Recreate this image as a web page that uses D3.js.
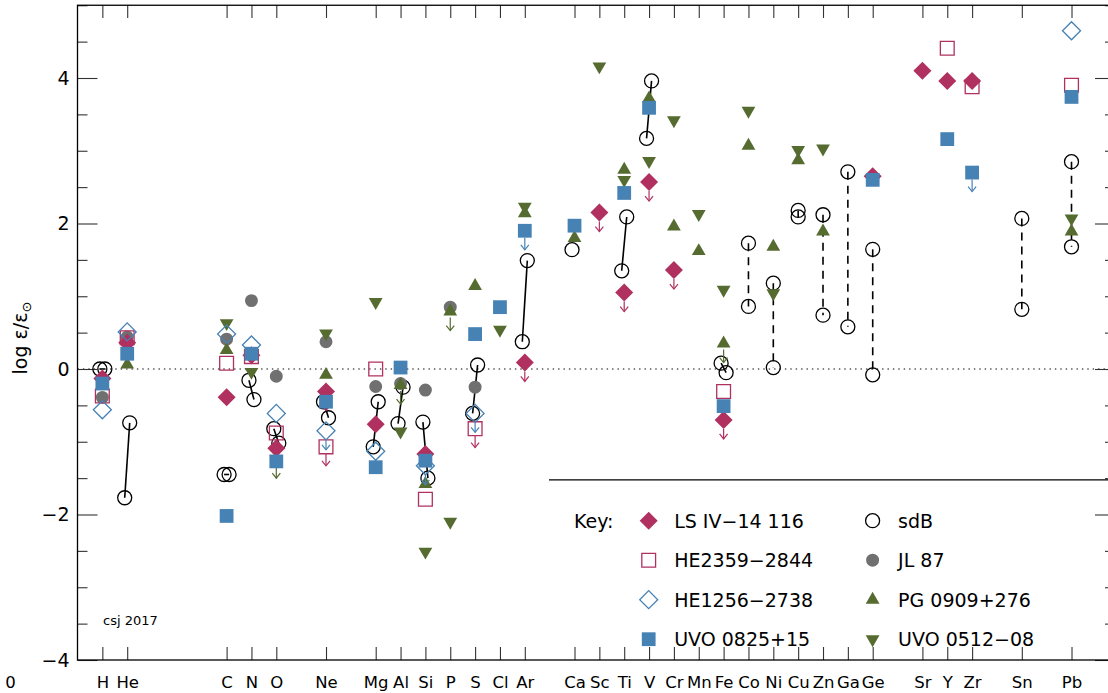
<!DOCTYPE html>
<html>
<head>
<meta charset="utf-8">
<script src="https://cdn.jsdelivr.net/npm/d3@7"></script>
<style>
  body { margin: 0; background: #fff; }
  svg text { font-family: "DejaVu Sans", sans-serif; fill: #000; }
</style>
</head>
<body>
<svg id="chart" width="1108" height="693"></svg>
<script>
// elements along the x axis (ordinal slots, with gaps)
const elements = ["H","He","C","N","O","Ne","Mg","Al","Si","P","S","Cl","Ar",
  "Ca","Sc","Ti","V","Cr","Mn","Fe","Co","Ni","Cu","Zn","Ga","Ge","Sr","Y","Zr","Sn","Pb"];
const slots = [1,2,6,7,8,10,12,13,14,15,16,17,18,
  20,21,22,23,24,25,26,27,28,29,30,31,32,34,35,36,38,40];

// log eps / eps_sun, one value per element (null = not measured)
const lsiv = [-0.13,0.36,-0.39,0.19,-1.09,-0.31,-0.76,null,-1.17,null,null,null,0.09,
  null,2.15,1.05,2.57,1.36,null,-0.70,null,null,null,null,null,2.65,4.10,3.96,3.96,null,null];
const he2359 = [-0.37,0.43,0.08,0.17,-0.88,-1.07,0.0,null,-1.79,null,-0.82,null,null,
  null,null,null,null,null,null,-0.31,null,null,null,null,null,null,null,4.41,3.88,null,3.90];
const he1256 = [-0.56,0.51,0.48,0.33,-0.61,-0.85,-1.13,null,-1.33,null,-0.61,null,null,
  null,null,null,null,null,null,null,null,null,null,null,null,null,null,null,null,null,4.65];
const uvo0825 = [-0.20,0.21,-2.02,0.21,-1.27,-0.45,-1.35,0.02,-1.26,null,0.48,0.85,1.90,
  1.97,null,2.42,3.59,null,null,-0.51,null,null,null,null,null,2.60,null,3.16,2.70,null,3.74];
const jl87 = [-0.39,0.44,0.41,0.94,-0.10,0.375,-0.24,-0.20,-0.29,0.85,-0.25,null,null,
  null,null,null,null,null,null,null,null,null,null,null,null,null,null,null,null,null,null];
const pg0909 = [null,0.06,0.26,null,null,-0.08,null,-0.22,-1.58,0.79,1.14,null,2.14,
  1.80,null,2.74,3.72,1.96,1.62,0.35,3.07,1.68,2.87,1.89,null,null,null,null,null,null,1.89];
const uvo0512 = [null,null,0.63,-0.04,-1.24,0.49,0.92,-0.86,-2.51,-2.10,null,0.54,2.23,
  null,4.16,2.60,2.86,3.42,2.13,1.09,3.55,1.04,3.01,3.03,null,null,null,null,null,null,2.07];

// sdB range: two values per element (first drawn a bit left, second a bit right)
const sdbA = [0,-1.77,-1.45,-0.155,-0.82,-0.45,-1.07,-0.75,-0.73,null,-0.61,null,0.375,
  1.64,null,1.35,3.17,null,null,0.08,1.73,1.18,2.18,2.12,2.71,1.645,null,null,null,2.07,2.85];
const sdbB = [0,-0.74,-1.45,-0.42,-1.02,-0.67,-0.45,-0.25,-1.50,null,0.055,null,1.49,
  null,null,2.09,3.96,null,null,-0.05,0.86,0.02,2.09,0.74,0.58,-0.08,null,null,null,0.82,1.68];

// upper limits
const lsivLimits = ["Ne","Ar","Sc","Ti","V","Cr","Fe"];
const he2359Limits = ["Ne","S"];
const he1256Limits = ["Ne","Mg","Si","S"];
const uvo0825Limits = ["Ar","Zr"];
const pg0909Limits = ["Al","P","Fe"];
const uvo0512Limits = ["O"];

const yTicksMajor = [-4,-2,0,2,4];

// ---- layout
const svg = d3.select("#chart");
const x = d3.scaleLinear().domain([0, 41.75]).range([77.5, 1115]);
const y = d3.scaleLinear().domain([-4, 5]).range([660, 5.25]);

const MAROON = "#b03060", STEEL = "#4682b4", OLIVE = "#556b2f", GREY = "#707070";

// zero line
svg.append("line")
  .attr("x1", x(0)).attr("x2", x(41.75))
  .attr("y1", y(0)).attr("y2", y(0))
  .attr("stroke", "#000").attr("stroke-width", 1.2)
  .attr("stroke-dasharray", "1.4,4");

// axes
const tickStyle = g => {
  g.select(".domain").remove();
  g.selectAll(".tick line").attr("stroke", "#333").attr("stroke-width", 1.1);
};

svg.append("g").attr("transform", `translate(0,${y(-4)})`)
  .call(d3.axisBottom(x).tickValues(slots).tickFormat((d, i) => elements[i])
    .tickSize(-13).tickPadding(16))
  .call(tickStyle)
  .call(g => g.selectAll("text").attr("font-size", 16.5).attr("font-family", "DejaVu Sans").attr("fill", "#000"));

svg.append("g").attr("transform", `translate(0,${y(5)})`)
  .call(d3.axisTop(x).tickValues(slots).tickFormat("").tickSize(-12.7))
  .call(tickStyle);

const yMinor = d3.range(-4, 5.01, 0.5).filter(v => !yTicksMajor.includes(v));

svg.append("g").attr("transform", `translate(${x(0)},0)`)
  .call(d3.axisLeft(y).tickValues(yMinor).tickFormat("").tickSize(-10))
  .call(tickStyle);
svg.append("g").attr("transform", `translate(${x(0)},0)`)
  .call(d3.axisLeft(y).tickValues(yTicksMajor).tickFormat(d => d < 0 ? "\u2212" + (-d) : d)
    .tickSize(-20).tickPadding(8))
  .call(tickStyle)
  .call(g => g.selectAll("text").attr("font-size", 19).attr("font-family", "DejaVu Sans").attr("fill", "#000"));

svg.append("g").attr("transform", `translate(${x(41.75)},0)`)
  .call(d3.axisRight(y).tickValues(yMinor).tickFormat("").tickSize(-10))
  .call(tickStyle);
svg.append("g").attr("transform", `translate(${x(41.75)},0)`)
  .call(d3.axisRight(y).tickValues(yTicksMajor).tickFormat("").tickSize(-20))
  .call(tickStyle);

// frame
svg.append("rect")
  .attr("x", x(0)).attr("y", y(5))
  .attr("width", x(41.75) - x(0)).attr("height", y(-4) - y(5))
  .attr("fill", "none").attr("stroke", "#000").attr("stroke-width", 1.3);

// stray "0" label at the left of the x axis
svg.append("text").attr("x", x(-2.7)).attr("y", 688)
  .attr("text-anchor", "middle").attr("font-size", 16.5).text("0");

// y label
svg.append("text")
  .attr("transform", "translate(27,338) rotate(-90)")
  .attr("text-anchor", "middle").attr("font-size", 19)
  .text("log \u03b5/\u03b5")
  .append("tspan").attr("font-size", 13).attr("dy", 4).text("\u2299");

svg.append("text").attr("x", 103).attr("y", 625).attr("font-size", 13).text("csj 2017");

// ---- symbols
const symbols = {
  diamond: { path: d3.symbol(d3.symbolSquare, 162)(), rot: 45, half: 9 },
  square: { path: d3.symbol(d3.symbolSquare, 190)(), rot: 0, half: 7 },
  circle: { path: d3.symbol(d3.symbolCircle, Math.PI * 49)(), rot: 0, half: 7 },
  dot: { path: d3.symbol(d3.symbolCircle, Math.PI * 42)(), rot: 0, half: 6.5 },
  up: { path: d3.symbol(d3.symbolTriangle, 82)(), rot: 0, half: 6 },
  down: { path: d3.symbol(d3.symbolTriangle, 82)(), rot: 180, half: 6 }
};

function drawMark(g, cx, cy, sym, fill, stroke) {
  const s = symbols[sym];
  g.append("path")
    .attr("d", s.path)
    .attr("transform", `translate(${cx},${cy}) rotate(${s.rot})`)
    .attr("fill", fill)
    .attr("stroke", stroke)
    .attr("stroke-width", stroke === "none" ? 0 : 1.3);
}

function drawArrow(g, cx, cy, start, color) {
  const tip = cy + 19;
  g.append("line").attr("x1", cx).attr("x2", cx).attr("y1", cy + start).attr("y2", tip)
    .attr("stroke", color).attr("stroke-width", 1.2);
  g.append("path").attr("d", `M${cx - 4},${tip - 5}L${cx},${tip}L${cx + 4},${tip - 5}`)
    .attr("fill", "none").attr("stroke", color).attr("stroke-width", 1.2);
}

// sdB ranges first
const gSdb = svg.append("g");
const coIndex = elements.indexOf("Co");
elements.forEach((el, i) => {
  const a = sdbA[i], b = sdbB[i];
  if (a === null) return;
  const dashed = i >= coIndex;
  const dx = dashed ? 0 : 2.5;
  const xa = x(slots[i]) - dx, xb = x(slots[i]) + dx;
  if (b !== null) {
    gSdb.append("line")
      .attr("x1", xa).attr("y1", y(a)).attr("x2", xb).attr("y2", y(b))
      .attr("stroke", "#000").attr("stroke-width", 1.6)
      .attr("stroke-dasharray", dashed ? "8,6" : null);
  }
  drawMark(gSdb, xa, y(a), "circle", "none", "#000");
  if (b !== null) drawMark(gSdb, xb, y(b), "circle", "none", "#000");
});

const series = [
  { vals: jl87, sym: "dot", fill: GREY, stroke: "none", color: GREY, limits: [] },
  { vals: pg0909, sym: "up", fill: OLIVE, stroke: "none", color: OLIVE, limits: pg0909Limits },
  { vals: uvo0512, sym: "down", fill: OLIVE, stroke: "none", color: OLIVE, limits: uvo0512Limits },
  { vals: he2359, sym: "square", fill: "none", stroke: MAROON, color: MAROON, limits: he2359Limits },
  { vals: lsiv, sym: "diamond", fill: MAROON, stroke: "none", color: MAROON, limits: lsivLimits },
  { vals: he1256, sym: "diamond", fill: "none", stroke: STEEL, color: STEEL, limits: he1256Limits },
  { vals: uvo0825, sym: "square", fill: STEEL, stroke: "none", color: STEEL, limits: uvo0825Limits }
];

series.forEach(s => {
  const g = svg.append("g");
  elements.forEach((el, i) => {
    const v = s.vals[i];
    if (v === null) return;
    const cx = x(slots[i]), cy = y(v);
    if (s.limits.includes(el)) drawArrow(g, cx, cy, symbols[s.sym].half, s.color);
    drawMark(g, cx, cy, s.sym, s.fill, s.stroke);
  });
});

// ---- key
svg.append("line").attr("x1", 549).attr("x2", x(41.75)).attr("y1", 479.8).attr("y2", 479.8)
  .attr("stroke", "#000").attr("stroke-width", 1.3);

svg.append("text").attr("x", 574).attr("y", 527.5).attr("font-size", 19).text("Key:");

const keyNames = ["LS IV\u221214 116","HE2359\u22122844","HE1256\u22122738","UVO 0825+15",
  "sdB","JL 87","PG 0909+276","UVO 0512\u221208"];
const keyStyles = [
  ["diamond", MAROON, "none"], ["square", "none", MAROON], ["diamond", "none", STEEL], ["square", STEEL, "none"],
  ["circle", "none", "#000"], ["dot", GREY, "none"], ["up", OLIVE, "none"], ["down", OLIVE, "none"]
];
const gKey = svg.append("g");
keyNames.forEach((name, i) => {
  const col = Math.floor(i / 4), row = i % 4;
  const sx = col === 0 ? 648.7 : 872.6;
  const cy = 520.7 + row * 39.5;
  const st = keyStyles[i];
  drawMark(gKey, sx, cy, st[0], st[1], st[2]);
  gKey.append("text").attr("x", sx + 25.5).attr("y", cy + 7).attr("font-size", 19).text(name);
});
</script>
</body>
</html>
